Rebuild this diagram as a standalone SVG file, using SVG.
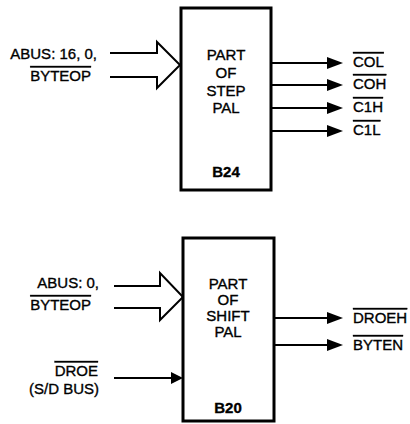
<svg xmlns="http://www.w3.org/2000/svg" width="410" height="424" viewBox="0 0 410 424">
<style>
text{font-family:"Liberation Sans",Arial,sans-serif;font-size:15px;fill:#000;stroke:#000;stroke-width:0.35}
.c{text-anchor:middle}
.r{text-anchor:end}
.b{font-weight:bold}
.ov{text-decoration:overline}
.box{fill:#fff;stroke:#000;stroke-width:3}
.ln{fill:none;stroke:#000;stroke-width:2}
.hd{fill:#000;stroke:none}
</style>
<rect width="410" height="424" fill="#fff"/>
<g id="connectors">
<path class="ln" d="M110,53 H157 V42 L180,65 L157,88 V77 H110"/>
<path class="ln" d="M114,286 H160 V273 L183,297 L160,320 V308 H114"/>
<line class="ln" x1="114" y1="378" x2="174" y2="378"/>
<polygon class="hd" points="183,378 171,372 171,384"/>
<line class="ln" x1="271" y1="63" x2="330" y2="63"/>
<polygon class="hd" points="343,63 327,57 327,69"/>
<line class="ln" x1="271" y1="85" x2="330" y2="85"/>
<polygon class="hd" points="343,85 327,79 327,91"/>
<line class="ln" x1="271" y1="108" x2="330" y2="108"/>
<polygon class="hd" points="343,108 327,102 327,114"/>
<line class="ln" x1="271" y1="131" x2="330" y2="131"/>
<polygon class="hd" points="343,131 327,125 327,137"/>
<line class="ln" x1="274" y1="318" x2="330" y2="318"/>
<polygon class="hd" points="343,318 327,312 327,324"/>
<line class="ln" x1="274" y1="345" x2="330" y2="345"/>
<polygon class="hd" points="343,345 327,339 327,351"/>
</g>
<g id="b24">
<rect class="box" x="181" y="8" width="90" height="182"/>
<text class="c" x="226" y="60">PART</text>
<text class="c" x="226" y="78">OF</text>
<text class="c" x="226" y="96">STEP</text>
<text class="c" x="226" y="113">PAL</text>
<text class="c b" x="226" y="177">B24</text>
</g>
<g id="b20">
<rect class="box" x="183" y="238" width="91" height="183"/>
<text class="c" x="228" y="289">PART</text>
<text class="c" x="228" y="305">OF</text>
<text class="c" x="228" y="321">SHIFT</text>
<text class="c" x="228" y="337">PAL</text>
<text class="c b" x="228" y="413">B20</text>
</g>
<g id="labels">
<text class="r" x="97" y="59">ABUS: 16, 0,</text>
<text class="r ov" x="91" y="81">BYTEOP</text>
<text class="r" x="99" y="288">ABUS: 0,</text>
<text class="r ov" x="91" y="310">BYTEOP</text>
<text class="r ov" x="98" y="376">DROE</text>
<text class="r" x="99" y="394">(S/D BUS)</text>
<text class="ov" x="353" y="67">COL</text>
<text class="ov" x="353" y="89">COH</text>
<text class="ov" x="353" y="112">C1H</text>
<text class="ov" x="353" y="135">C1L</text>
<text class="ov" x="353" y="323">DROEH</text>
<text class="ov" x="353" y="350">BYTEN</text>
</g>
</svg>
